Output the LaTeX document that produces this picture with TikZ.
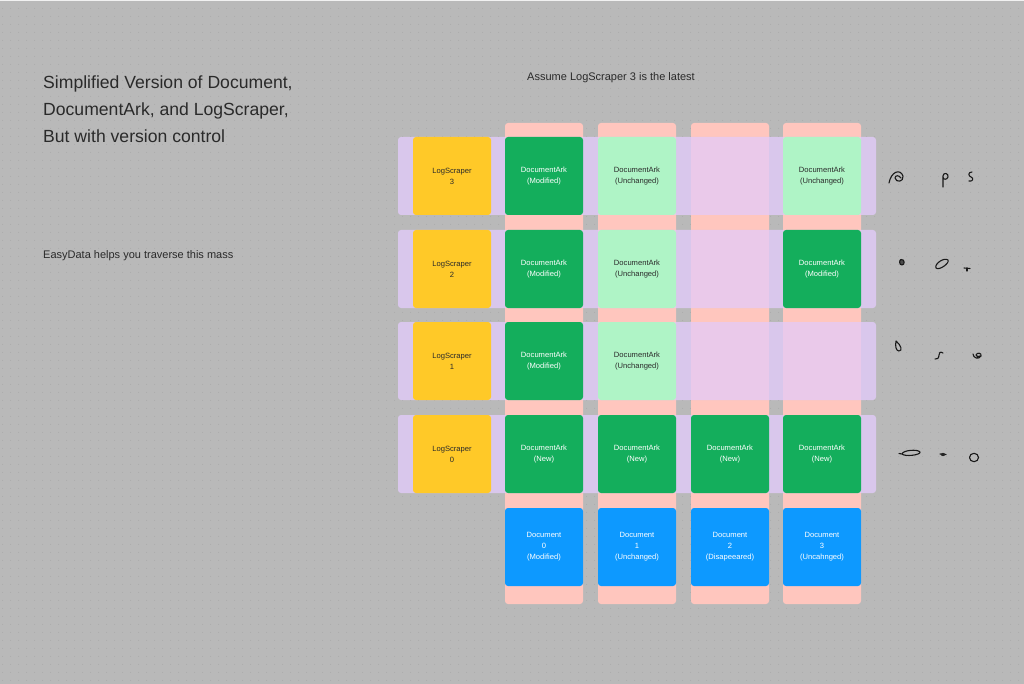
\documentclass[tikz,border=0pt]{standalone}
\usepackage{fontspec}
\setmainfont{Liberation Sans}
\usetikzlibrary{patterns}
\definecolor{bg}{HTML}{B9B9B9}
\definecolor{bgdot}{HTML}{ACACAC}
\definecolor{pinkstrip}{HTML}{FFC6BE}
\definecolor{lavstrip}{HTML}{D9C7EC}
\definecolor{mixcell}{HTML}{EAC9EA}
\definecolor{yel}{HTML}{FFC928}
\definecolor{dkgreen}{HTML}{14AE5C}
\definecolor{ltgreen}{HTML}{AFF4C6}
\definecolor{docblue}{HTML}{0D99FF}
\definecolor{ink}{HTML}{2A2A2A}
\pgfdeclarepatternformonly{griddots}{\pgfpointorigin}{\pgfpoint{8pt}{8pt}}{\pgfpoint{8pt}{8pt}}{\pgfpathcircle{\pgfpoint{4pt}{4pt}}{0.6pt}\pgfusepath{fill}}
\tikzset{
  cell/.style={minimum width=78pt,minimum height=78pt,inner sep=0pt,align=center,rounded corners=3pt,font=\fontsize{7.6}{11}\selectfont},
  lsbox/.style={cell,fill=yel,text=ink},
  arkmod/.style={cell,fill=dkgreen,text=white},
  arkun/.style={cell,fill=ltgreen,text=ink},
  docbox/.style={cell,fill=docblue,text=white},
  strip/.style={rounded corners=3pt},
  scrib/.style={draw=black!90,line width=1.1pt,line cap=round,line join=round},
  titletext/.style={anchor=base west,inner sep=0pt,text=ink,font=\fontsize{17.6}{27}\selectfont},
  smalltext/.style={inner sep=0pt,text=ink,font=\fontsize{11}{13}\selectfont}
}
\begin{document}
\begin{tikzpicture}[x=1pt,y=-1pt]
\useasboundingbox (0,0) rectangle (1024,684);
\fill[bg] (0,0) rectangle (1024,684);
\fill[pattern=griddots,pattern color=bgdot] (0,0) rectangle (1024,684);
\fill[white!80!bg] (0,0) rectangle (1024,1.5);
% pink column strips
\foreach \x in {505,598,691,783}{
  \fill[pinkstrip,strip] (\x,123) rectangle (\x+78,604);
}
% lavender row strips
\foreach \y in {137,230,322,415}{
  \fill[lavstrip,strip] (398,\y) rectangle (876,\y+78);
  \foreach \x in {505,598,691,783}{
    \fill[mixcell] (\x,\y) rectangle (\x+78,\y+78);
  }
}
% texts
\node[titletext] (t1) at (43,89) {Simplified Version of Document,};
\node[titletext] (t2) at (43,116) {DocumentArk, and LogScraper,};
\node[titletext] (t3) at (43,143) {But with version control};
\node[smalltext,anchor=base] (assume) at (611,81) {Assume LogScraper 3 is the latest};
\node[smalltext,anchor=base west] (easy) at (43,259) {EasyData helps you traverse this mass};
% LogScraper boxes
\node[lsbox] (ls3) at (452,176) {LogScraper\\3};
\node[lsbox] (ls2) at (452,269) {LogScraper\\2};
\node[lsbox] (ls1) at (452,361) {LogScraper\\1};
\node[lsbox] (ls0) at (452,454) {LogScraper\\0};
% row 3
\node[arkmod] (a30) at (544,176) {DocumentArk\\(Modified)};
\node[arkun]  (a31) at (637,176) {DocumentArk\\(Unchanged)};
\node[arkun]  (a33) at (822,176) {DocumentArk\\(Unchanged)};
% row 2
\node[arkmod] (a20) at (544,269) {DocumentArk\\(Modified)};
\node[arkun]  (a21) at (637,269) {DocumentArk\\(Unchanged)};
\node[arkmod] (a23) at (822,269) {DocumentArk\\(Modified)};
% row 1
\node[arkmod] (a10) at (544,361) {DocumentArk\\(Modified)};
\node[arkun]  (a11) at (637,361) {DocumentArk\\(Unchanged)};
% row 0
\node[arkmod] (a00) at (544,454) {DocumentArk\\(New)};
\node[arkmod] (a01) at (637,454) {DocumentArk\\(New)};
\node[arkmod] (a02) at (730,454) {DocumentArk\\(New)};
\node[arkmod] (a03) at (822,454) {DocumentArk\\(New)};
% documents
\node[docbox] (d0) at (544,547) {Document\\0\\(Modified)};
\node[docbox] (d1) at (637,547) {Document\\1\\(Unchanged)};
\node[docbox] (d2) at (730,547) {Document\\2\\(Disapeeared)};
\node[docbox] (d3) at (822,547) {Document\\3\\(Uncahnged)};
% scribbles row 3
\draw[scrib] (889,183) .. controls (891,172) and (900,168) .. (903,176) .. controls (904,182) and (896,183) .. (895,178) .. controls (895,175) and (899,175) .. (901,178);
\draw[scrib] (943,187) -- (943,176) .. controls (943,172) and (949,173) .. (948,177) .. controls (947,180) and (943,180) .. (943,177);
\draw[scrib] (972,172) .. controls (968,172) and (968,176) .. (971,177) .. controls (974,178) and (973,182) .. (969,181);
% scribbles row 2
\draw[scrib,fill=black!70] (901,259.5) .. controls (905,259) and (905,265) .. (902,265) .. controls (899,265) and (899,260) .. (901,259.5);
\draw[scrib] (936,268) .. controls (934,264) and (944,257) .. (948,260) .. controls (950,263) and (939,271) .. (936,268);
\draw[scrib] (964,268) -- (970,268.5);
\draw[scrib] (967,268) -- (967,271);
% scribbles row 1
\draw[scrib] (896,341) .. controls (895,346) and (896,351) .. (899,351) .. controls (903,351) and (901,345) .. (896,341);
\draw[scrib] (943,353) .. controls (940,351) and (939,353) .. (939,355) .. controls (939,358) and (937,360) .. (935,359);
\draw[scrib] (973,354) .. controls (973,358) and (979,360) .. (981,356) .. controls (982,353) and (977,352) .. (976,355) .. controls (976,357) and (979,357) .. (980,356);
% scribbles row 0
\draw[scrib] (902,454) .. controls (903,450) and (918,449) .. (920,452) .. controls (921,455) and (905,457) .. (902,454) -- (899,453.5);
\draw[scrib] (940,454) -- (946,454.5);
\fill[black!85] (943,454.5) ellipse (2.2 and 1.6);
\draw[scrib] (974,457.5) ellipse (4.5 and 4.2);
\end{tikzpicture}
\end{document}
